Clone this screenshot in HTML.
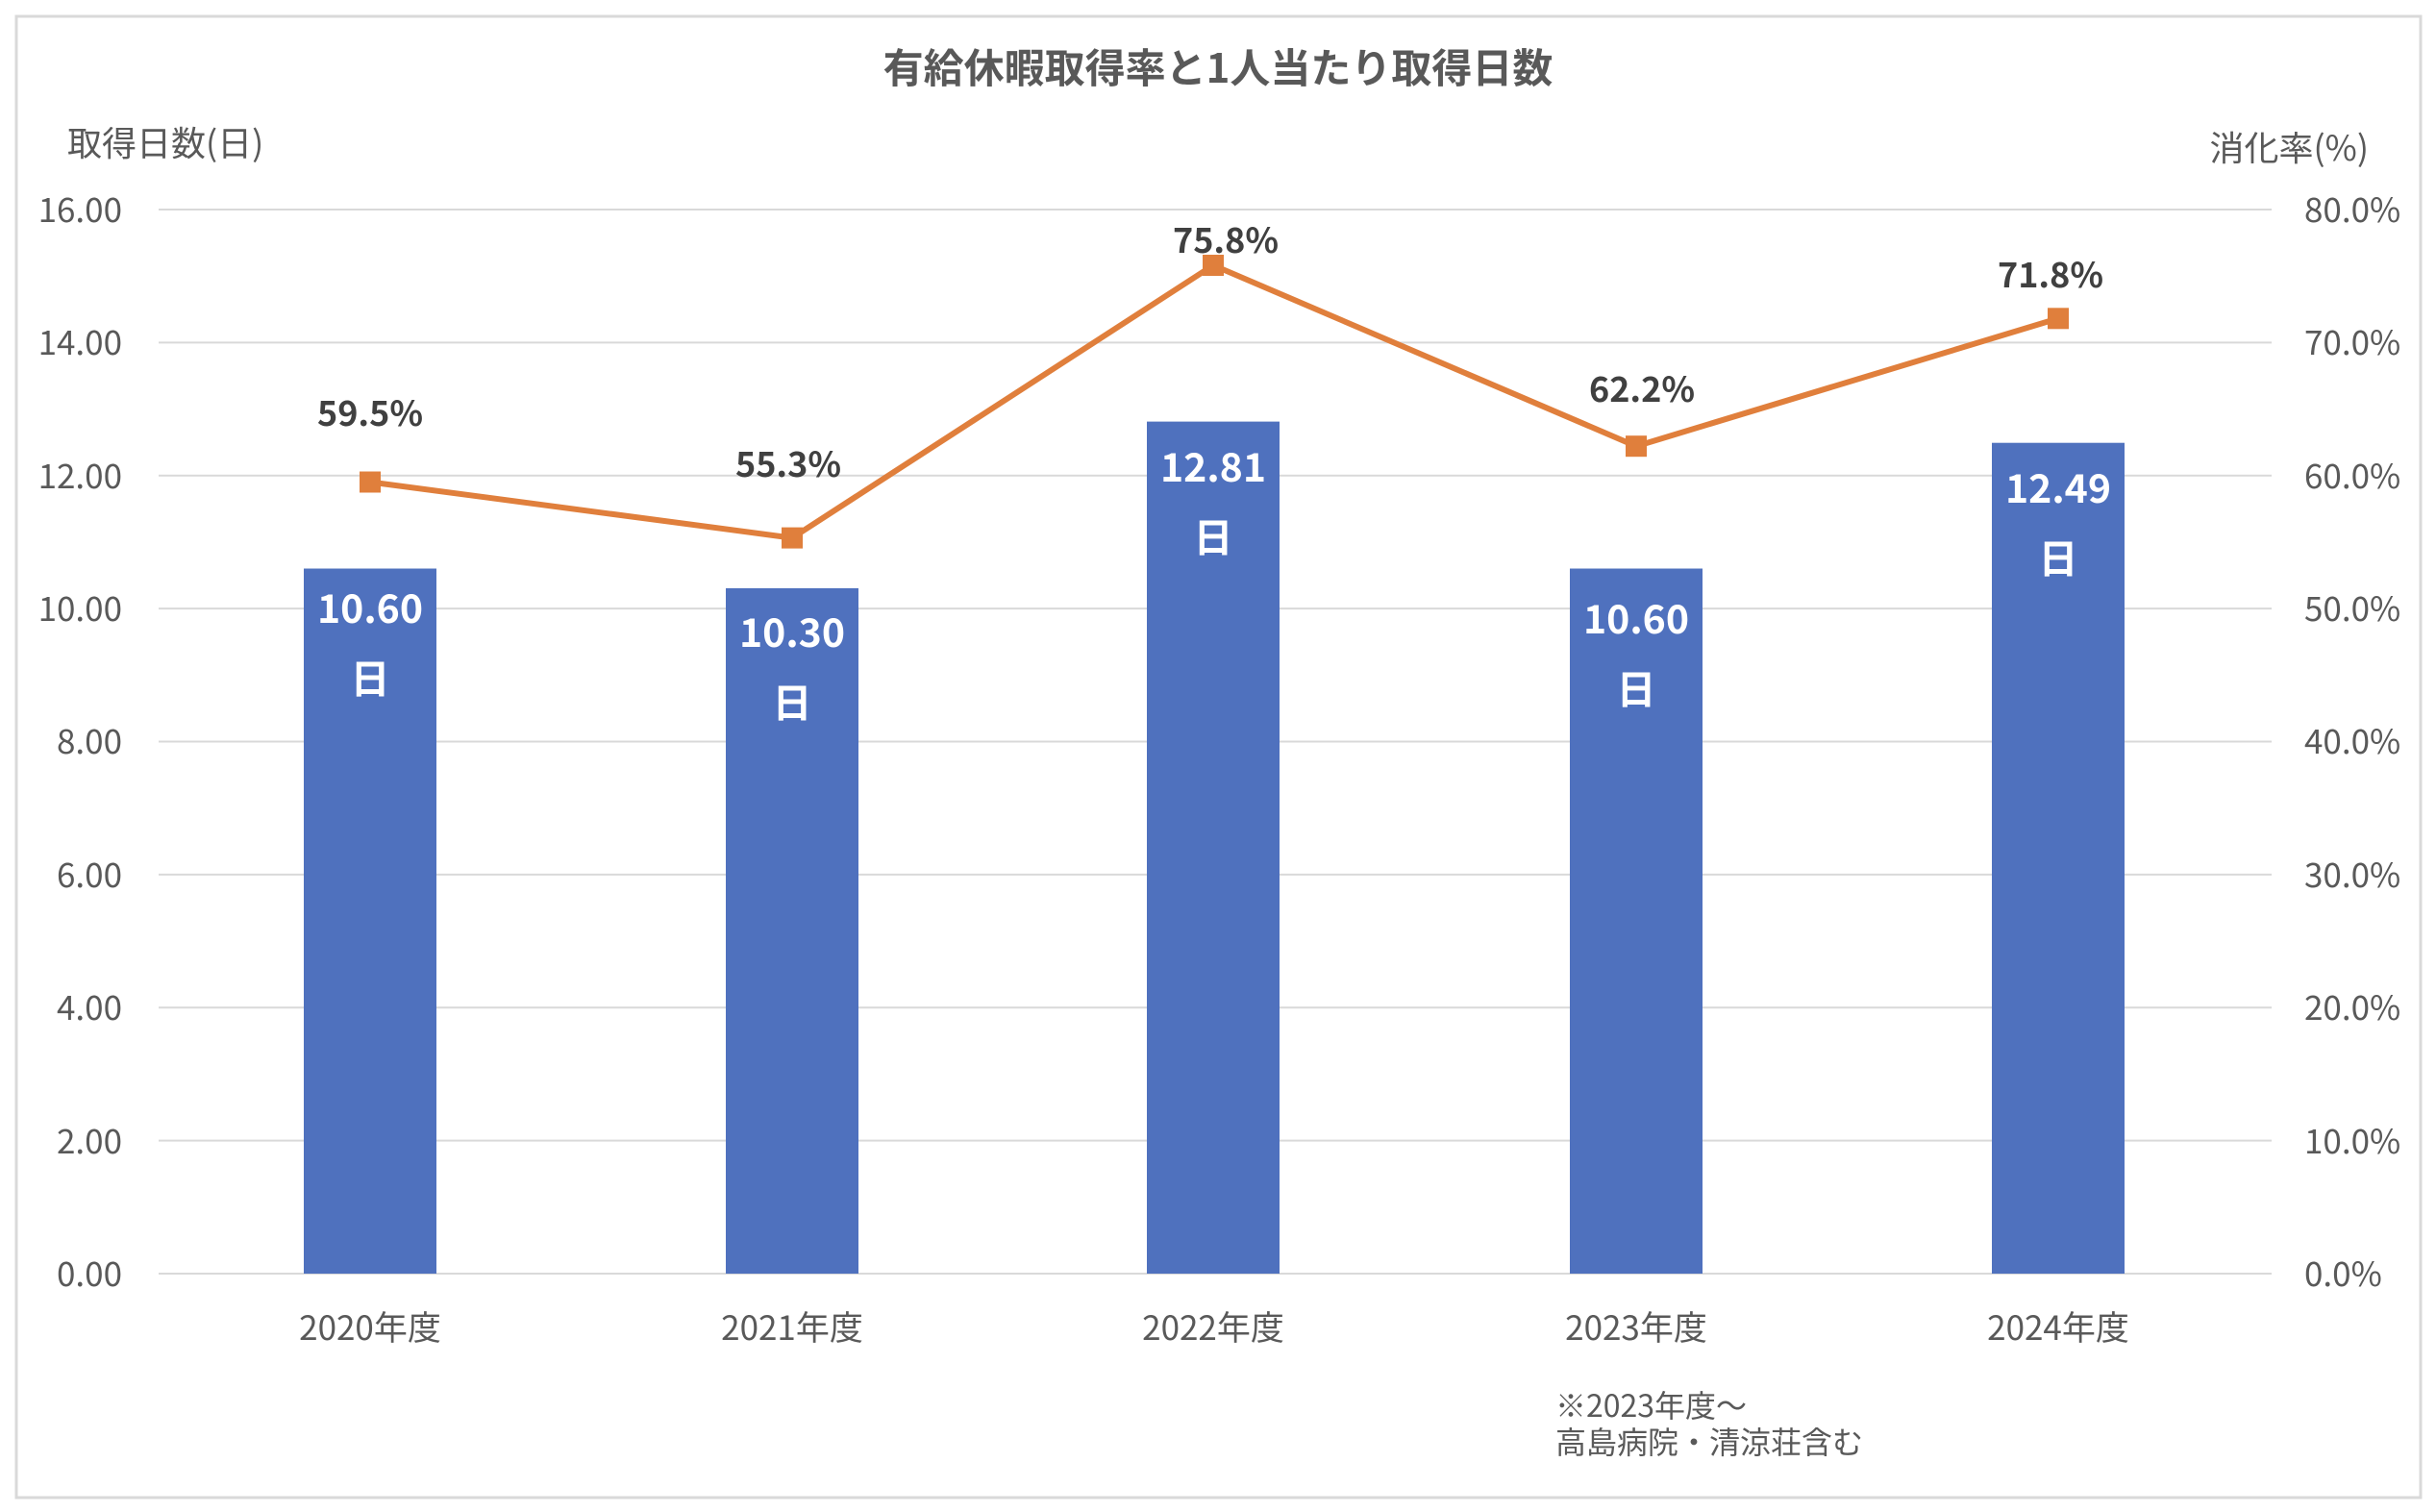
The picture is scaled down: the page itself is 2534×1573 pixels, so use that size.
<!DOCTYPE html>
<html><head><meta charset="utf-8"><style>
html,body{margin:0;padding:0;background:#fff;}
svg{display:block;font-family:"Noto Sans CJK JP","Liberation Sans",sans-serif;}
</style></head><body>
<svg width="2534" height="1573" viewBox="0 0 2534 1573" xmlns="http://www.w3.org/2000/svg">
<rect x="0" y="0" width="2534" height="1573" fill="#fff"/>
<rect x="17" y="17" width="2501" height="1541" fill="#fff" stroke="#d9d9d9" stroke-width="3"/>
<text x="1267" y="86" text-anchor="middle" font-size="42" font-weight="bold" fill="#595959">有給休暇取得率と1人当たり取得日数</text>
<text x="70" y="162" font-size="36" fill="#595959">取得日数(日)</text>
<text x="2464" y="167" text-anchor="end" font-size="36" fill="#595959">消化率(%)</text>
<g stroke="#d9d9d9" stroke-width="2">
<line x1="165" x2="2363" y1="218" y2="218"/><line x1="165" x2="2363" y1="356.4" y2="356.4"/>
<line x1="165" x2="2363" y1="494.8" y2="494.8"/><line x1="165" x2="2363" y1="633.1" y2="633.1"/>
<line x1="165" x2="2363" y1="771.5" y2="771.5"/><line x1="165" x2="2363" y1="909.9" y2="909.9"/>
<line x1="165" x2="2363" y1="1048.3" y2="1048.3"/><line x1="165" x2="2363" y1="1186.6" y2="1186.6"/>
<line x1="165" x2="2363" y1="1325" y2="1325"/>
</g>
<g font-size="35" fill="#595959" text-anchor="end">
<text x="127" y="231">16.00</text><text x="127" y="369">14.00</text><text x="127" y="508">12.00</text>
<text x="127" y="646">10.00</text><text x="127" y="784">8.00</text><text x="127" y="923">6.00</text>
<text x="127" y="1061">4.00</text><text x="127" y="1200">2.00</text><text x="127" y="1338">0.00</text>
</g>
<g font-size="35" fill="#595959">
<text x="2397" y="231">80.0%</text><text x="2397" y="369">70.0%</text><text x="2397" y="508">60.0%</text>
<text x="2397" y="646">50.0%</text><text x="2397" y="784">40.0%</text><text x="2397" y="923">30.0%</text>
<text x="2397" y="1061">20.0%</text><text x="2397" y="1200">10.0%</text><text x="2397" y="1338">0.0%</text>
</g>
<g fill="#4f71be">
<rect x="316" y="591.5" width="138" height="733.5"/>
<rect x="755" y="612" width="138" height="713"/>
<rect x="1193" y="438.6" width="138" height="886.4"/>
<rect x="1633" y="591.5" width="138" height="733.5"/>
<rect x="2072" y="460.7" width="138" height="864.3"/>
</g>
<g font-size="41" font-weight="bold" fill="#fff" text-anchor="middle">
<text x="385" y="648">10.60</text><text x="385" y="721">日</text>
<text x="824" y="673">10.30</text><text x="824" y="746">日</text>
<text x="1262" y="501">12.81</text><text x="1262" y="574">日</text>
<text x="1702" y="659">10.60</text><text x="1702" y="732">日</text>
<text x="2141" y="523">12.49</text><text x="2141" y="596">日</text>
</g>
<polyline points="385,501.5 824,559.6 1262,276 1702,464.2 2141,331.3" fill="none" stroke="#e07f3c" stroke-width="6" stroke-linejoin="round"/>
<g fill="#e07f3c">
<rect x="374" y="490.5" width="22" height="22"/><rect x="813" y="548.6" width="22" height="22"/>
<rect x="1251" y="265" width="22" height="22"/><rect x="1691" y="453.2" width="22" height="22"/>
<rect x="2130" y="320.3" width="22" height="22"/>
</g>
<g font-size="36" font-weight="bold" fill="#404040" text-anchor="middle">
<text x="385" y="443">59.5%</text><text x="820" y="496">55.3%</text><text x="1275" y="263">75.8%</text>
<text x="1708" y="418">62.2%</text><text x="2133" y="299">71.8%</text>
</g>
<g font-size="35" fill="#595959" text-anchor="middle">
<text x="385" y="1394">2020年度</text><text x="824" y="1394">2021年度</text><text x="1262" y="1394">2022年度</text>
<text x="1702" y="1394">2023年度</text><text x="2141" y="1394">2024年度</text>
</g>
<g font-size="32" fill="#595959">
<text x="1618" y="1474">※2023年度～</text>
<text x="1618" y="1512">高島病院・清涼荘含む</text>
</g>
</svg>
</body></html>
